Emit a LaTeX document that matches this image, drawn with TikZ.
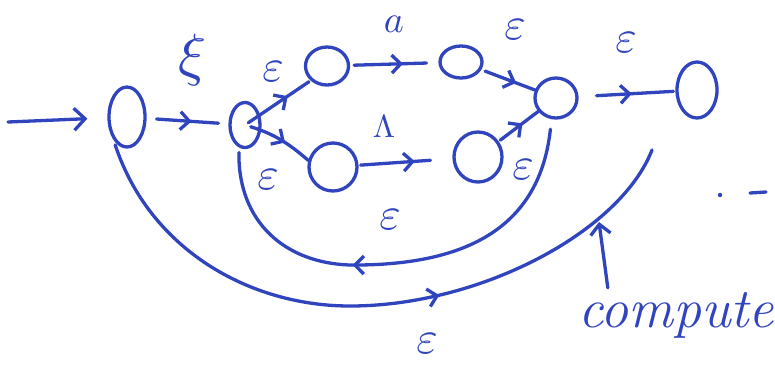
\documentclass[tikz,border=0pt]{standalone}
\usetikzlibrary{arrows.meta,decorations.markings,shapes.geometric,calc}
\definecolor{penblue}{RGB}{48,68,190}
\begin{document}
\begin{tikzpicture}[x=1pt,y=-1pt,
  pen/.style={draw=penblue,line width=3.3pt,line cap=round,line join=round},
  st/.style={pen,ellipse,inner sep=0pt},
  marr/.style={postaction={decorate},decoration={markings,mark=at position #1 with {\arrow[penblue]{Straight Barb[length=9pt,width=18pt]}}}},
  lbl/.style={text=penblue,inner sep=0pt,font=\normalsize,scale=4.6},
]
\useasboundingbox (0,0) rectangle (775,365);
\fill[white] (0,0) rectangle (775,365);
% states
\node[st,minimum width=36pt,minimum height=60pt] (q0) at (127,117) {};
\node[st,minimum width=30pt,minimum height=45pt] (q1) at (245,125) {};
\node[st,minimum width=43pt,minimum height=38pt] (q2) at (327,66) {};
\node[st,minimum width=42pt,minimum height=32pt] (q3) at (461,62) {};
\node[st,minimum width=48pt,minimum height=48pt] (q4) at (333,167) {};
\node[st,minimum width=48pt,minimum height=50pt] (q5) at (478,157) {};
\node[st,minimum width=42pt,minimum height=40pt] (q6) at (556,98) {};
\node[st,minimum width=40pt,minimum height=56pt] (q7) at (697,90) {};
% free ends
\coordinate (s) at (8,122);
\coordinate (be) at (652,150);
\coordinate (ct) at (599,222);
% start
\draw[pen,-{Straight Barb[length=11pt,width=22pt]},shorten >=20pt] (s) -- (q0);
% transitions
\draw[pen,marr=0.55,shorten <=10pt,shorten >=10pt] (q0) -- (q1);
\draw[pen,marr=0.65,shorten <=4pt,shorten >=2pt] (q1.center) -- (q2.south west);
\draw[pen,marr=0.6,shorten <=6pt] (q1.center) to[bend left=12] (q4.165);
\draw[pen,marr=0.6,shorten <=4pt,shorten >=12pt] (q2) -- (q3);
\draw[pen,marr=0.6,shorten <=2pt,shorten >=22pt] (q4) -- (q5);
\draw[pen,marr=0.65,shorten <=4pt] (q3) -- (q6);
\draw[pen,marr=0.6,shorten <=2pt] (q5) -- (q6);
\draw[pen,marr=0.55,shorten <=18pt,shorten >=2pt] (q6) -- (q7);
% back loop
\draw[pen,marr=0.6,shorten <=10pt,shorten >=5pt] (q6.258) .. controls (540,225) and (470,266) .. (350,265)
   .. controls (285,263) and (238,222) .. (q1.255);
% bypass
\draw[pen,marr=0.6,shorten <=5pt] (q0.240) .. controls (150,250) and (250,306) .. (350,306)
   .. controls (480,306) and (620,232) .. (be);
% labels
\node[lbl,scale=5.8/4.6] (l01) at (193,60) {$\xi$};
\node[lbl] (l12) at (273,72) {$\varepsilon$};
\node[lbl] (l14) at (268,180) {$\varepsilon$};
\node[lbl,scale=3.8/4.6] (l23) at (394,24) {$a$};
\node[lbl,scale=3.2/4.6] (l45) at (384,127) {$\Lambda$};
\node[lbl] (l36) at (515,30) {$\varepsilon$};
\node[lbl] (l56) at (523,170) {$\varepsilon$};
\node[lbl] (l67) at (626,43) {$\varepsilon$};
\node[lbl] (lback) at (390,220) {$\varepsilon$};
\node[lbl] (lby) at (427,344) {$\varepsilon$};
% compute note
\node[text=penblue,inner sep=0pt,font=\fontsize{56}{60}\itshape] (compute) at (676,315) {compute};
\draw[pen,-{Straight Barb[length=10pt,width=20pt]}] ($(compute.north west)+(30,-4)$) -- (ct);
% stray marks
\coordinate (d1) at (720,195);
\coordinate (d2) at (750,193);
\coordinate (d3) at (766,192);
\fill[penblue] (d1) circle (2.2pt);
\draw[pen] (d2) -- (d3);
\end{tikzpicture}
\end{document}
